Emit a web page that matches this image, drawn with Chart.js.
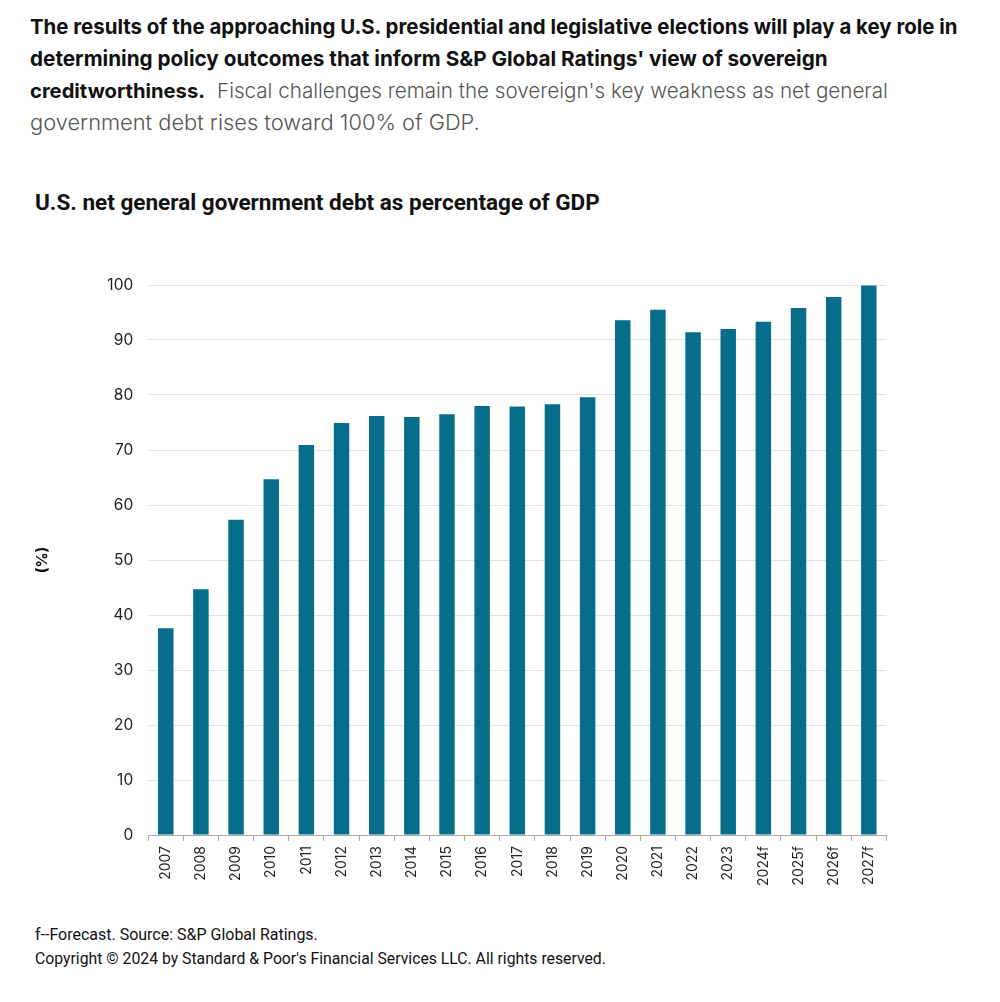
<!DOCTYPE html>
<html>
<head>
<meta charset="utf-8">
<script src="https://cdn.jsdelivr.net/npm/chart.js@4.4.1/dist/chart.umd.min.js"></script>
<style>
  html, body { margin: 0; padding: 0; background: #fff; }
  body { width: 1000px; height: 1002px; position: relative; overflow: hidden; font-family: Inter, "Noto Sans", sans-serif; }
  .hl { position: absolute; left: 30px; font-size: 19px; white-space: nowrap; color: #111; }
  .b { font-weight: 700; }
  .g { font-weight: 300; color: #555; }
  .fit { display: inline-block; white-space: nowrap; }
  #ctitle { position: absolute; left: 35px; font-family: Roboto, sans-serif; font-weight: 700; font-size: 21px; color: #111; white-space: nowrap; }
  .foot { position: absolute; left: 35px; font-family: Roboto, sans-serif; font-size: 14px; color: #111; white-space: nowrap; }
  #c { position: absolute; left: 0; top: 230px; }
</style>
</head>
<body>
<div class="hl b fit" data-w="928" data-cy="27">The results of the approaching U.S. presidential and legislative elections will play a key role in</div>
<div class="hl b fit" data-w="798" data-cy="59">determining policy outcomes that inform S&amp;P Global Ratings' view of sovereign</div>
<div class="hl b fit" data-w="175" data-cy="91">creditworthiness.</div>
<div class="hl g fit" data-w="671" data-cy="91" style="left:217px">Fiscal challenges remain the sovereign's key weakness as net general</div>
<div class="hl g fit" data-w="450" data-cy="123">government debt rises toward 100% of GDP.</div>
<div id="ctitle" class="fit" data-w="565" data-cy="203">U.S. net general government debt as percentage of GDP</div>
<canvas id="c" width="1000" height="680"></canvas>
<div class="foot fit" data-w="283" data-cy="935">f--Forecast. Source: S&amp;P Global Ratings.</div>
<div class="foot fit" data-w="571" data-cy="959">Copyright © 2024 by Standard &amp; Poor's Financial Services LLC. All rights reserved.</div>
<script>
// ---- data ----
const categories = ["2007","2008","2009","2010","2011","2012","2013","2014","2015","2016","2017","2018","2019","2020","2021","2022","2023","2024f","2025f","2026f","2027f"];
const debtPct = [37.6, 44.7, 57.3, 64.7, 70.9, 74.9, 76.2, 76.0, 76.5, 78.0, 77.9, 78.3, 79.6, 93.6, 95.5, 91.4, 92.0, 93.3, 95.8, 97.8, 99.9];
const yTicks = [0, 10, 20, 30, 40, 50, 60, 70, 80, 90, 100];
const yAxisLabel = "(%)";

// fit text widths by font size, then centre vertically
document.querySelectorAll('.fit').forEach(el => {
  const target = +el.dataset.w;
  const fs = parseFloat(getComputedStyle(el).fontSize);
  const w = el.getBoundingClientRect().width;
  el.style.fontSize = (fs * target / w).toFixed(2) + 'px';
  el.style.lineHeight = '1';
  const h = el.getBoundingClientRect().height;
  el.style.top = (+el.dataset.cy - h / 2).toFixed(1) + 'px';
});

const canvasH = 680;
const plotTop = 55, plotBottom = 605, plotLeft = 148.2, plotRight = 886.4;

new Chart(document.getElementById('c'), {
  type: 'bar',
  data: {
    labels: categories,
    datasets: [{
      data: debtPct,
      backgroundColor: '#066d8b',
      borderWidth: 0,
      barPercentage: 0.44,
      categoryPercentage: 1.0
    }]
  },
  options: {
    responsive: false,
    animation: false,
    events: [],
    layout: { padding: { left: 0, right: 1000 - plotRight, top: plotTop, bottom: 0 } },
    plugins: { legend: { display: false }, tooltip: { enabled: false }, title: { display: false } },
    scales: {
      x: {
        grid: { display: true, drawOnChartArea: false, drawTicks: true, tickLength: 6, color: '#aaaaaa', offset: true },
        border: { display: true, color: '#aaaaaa', width: 1 },
        ticks: { minRotation: 90, maxRotation: 90, padding: 5, color: '#222', font: { family: 'Inter, sans-serif', size: 14 }, autoSkip: false },
        afterFit: s => { s.height = canvasH - plotBottom; }
      },
      y: {
        min: 0, max: 100,
        afterBuildTicks: s => { s.ticks = yTicks.map(v => ({ value: v })); },
        grid: { color: '#e3e3e3', lineWidth: 1, drawTicks: false },
        border: { display: false },
        ticks: { padding: 15, color: '#222', font: { family: 'Inter, sans-serif', size: 15.5 } },
        title: { display: true, text: yAxisLabel, color: '#111', font: { family: 'Inter, sans-serif', size: 15, weight: '700' }, padding: { top: 33, bottom: 0 } },
        afterFit: s => { s.width = plotLeft; }
      }
    }
  }
});
</script>
</body>
</html>
